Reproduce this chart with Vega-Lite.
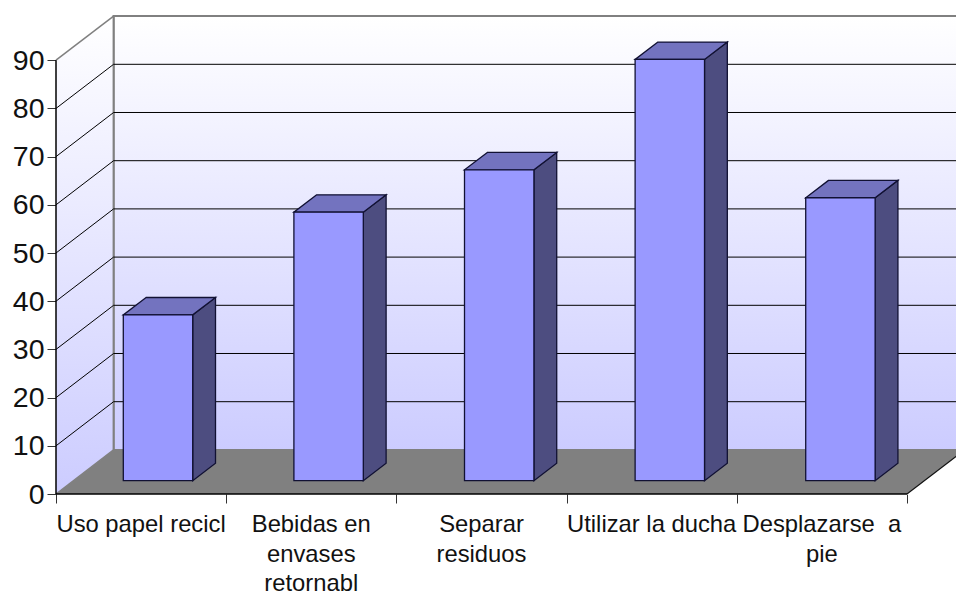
{
"$schema":"https://vega.github.io/schema/vega-lite/v6.json",
"width":900,"height":494,"padding":{"left":56,"top":0,"right":0,"bottom":97},"autosize":"none","background":"white",
"config":{"view":{"stroke":null},"font":"Liberation Sans"},
"datasets":{
"bars":[
{"category":"Uso papel recicl","value":34.4},
{"category":"Bebidas en\nenvases\nretornabl","value":55.7},
{"category":"Separar\nresiduos","value":64.5},
{"category":"Utilizar la ducha","value":87.4},
{"category":"Desplazarse \u00a0a\npie","value":58.7}],
"grid":[{"v":10},{"v":20},{"v":30},{"v":40},{"v":50},{"v":60},{"v":70},{"v":80}],
"frame":[{"t":0},{"t":1}],
"one":[{"v":0}]
},
"encoding":{
"x":{"field":"x","type":"quantitative","title":null,"scale":{"domain":[0,5.288],"nice":false,"zero":false},
"axis":{"values":[0,1,2,3,4,5],"labels":false,"domain":false,"grid":false,"tickSize":9,"tickColor":"#333333","title":null}},
"y":{"field":"y","type":"quantitative","title":null,"scale":{"domain":[0,102.49],"nice":false,"zero":false},
"axis":{"values":[0,10,20,30,40,50,60,70,80,90],"domain":false,"grid":false,"tickSize":9,"tickColor":"#333333","labelFontSize":28.5,"labelColor":"#111111","labelPadding":3,"title":null}}
},
"layer":[
{"data":{"name":"one"},
"transform":[{"calculate":"0.3384","as":"x"},{"calculate":"5.5","as":"x2"},{"calculate":"9.15","as":"y"},{"calculate":"99.15","as":"y2"}],
"mark":{"type":"rect","clip":true,"stroke":"#808080","strokeWidth":2,"fill":{"gradient":"linear","x1":0,"y1":0,"x2":0,"y2":1,"stops":[{"offset":0,"color":"#ffffff"},{"offset":1,"color":"#ccccff"}]}},
"encoding":{"x2":{"field":"x2"},"y2":{"field":"y2"}}},
{"data":{"name":"frame"},
"transform":[{"calculate":"datum.t*0.3384","as":"x"},{"calculate":"datum.t*9.15","as":"y"},{"calculate":"90+datum.t*9.15","as":"y2"}],
"mark":{"type":"area","fill":{"gradient":"linear","x1":0,"y1":0,"x2":0,"y2":1,"stops":[{"offset":0,"color":"#ffffff"},{"offset":1,"color":"#ccccff"}]}},
"encoding":{"y2":{"field":"y2"}}},
{"data":{"name":"one"},
"transform":[{"calculate":"0.3384","as":"x"},{"calculate":"9.15","as":"y"},{"calculate":"99.15","as":"y2"}],
"mark":{"type":"rule","color":"#808080","strokeWidth":2},
"encoding":{"y2":{"field":"y2"}}},
{"data":{"name":"frame"},
"transform":[{"calculate":"datum.t*9.15","as":"y"},{"calculate":"datum.t*0.3384","as":"x"},{"calculate":"5+datum.t*0.3384","as":"x2"}],
"mark":{"type":"area","orient":"horizontal","clip":true,"fill":"#808080"},
"encoding":{"x2":{"field":"x2"}}},
{"data":{"name":"grid"},
"transform":[{"calculate":"0.3384","as":"x"},{"calculate":"5.5","as":"x2"},{"calculate":"datum.v+9.15","as":"y"}],
"mark":{"type":"rule","clip":true,"color":"#000000","strokeWidth":1},
"encoding":{"x2":{"field":"x2"}}},
{"data":{"name":"grid"},
"transform":[{"calculate":"0","as":"x"},{"calculate":"0.3384","as":"x2"},{"calculate":"datum.v","as":"y"},{"calculate":"datum.v+9.15","as":"y2"}],
"mark":{"type":"rule","color":"#000000","strokeWidth":1},
"encoding":{"x2":{"field":"x2"},"y2":{"field":"y2"}}},
{"data":{"values":[{"v":0},{"v":90}]},
"transform":[{"calculate":"0","as":"x"},{"calculate":"0.3384","as":"x2"},{"calculate":"datum.v","as":"y"},{"calculate":"datum.v+9.15","as":"y2"}],
"mark":{"type":"rule","color":"#808080","strokeWidth":1.5},
"encoding":{"x2":{"field":"x2"},"y2":{"field":"y2"}}},
{"data":{"name":"one"},
"transform":[{"calculate":"5","as":"x"},{"calculate":"5.3384","as":"x2"},{"calculate":"0","as":"y"},{"calculate":"9.15","as":"y2"}],
"mark":{"type":"rule","clip":true,"color":"#111111","strokeWidth":1.2},
"encoding":{"x2":{"field":"x2"},"y2":{"field":"y2"}}},
{"data":{"name":"one"},
"transform":[{"calculate":"0","as":"x"},{"calculate":"0","as":"y"},{"calculate":"90","as":"y2"}],
"mark":{"type":"rule","color":"#000000","strokeWidth":1.5},
"encoding":{"y2":{"field":"y2"}}},
{"data":{"name":"one"},
"transform":[{"calculate":"0","as":"x"},{"calculate":"5","as":"x2"},{"calculate":"0","as":"y"}],
"mark":{"type":"rule","color":"#000000","strokeWidth":1.5},
"encoding":{"x2":{"field":"x2"}}},
{"data":{"name":"bars"},
"transform":[{"window":[{"op":"row_number","as":"n"}]},
{"calculate":"0.3954+(datum.n-1)*1.0024","as":"xf"},
{"calculate":"[0,1]","as":"t"},{"flatten":["t"]},
{"calculate":"datum.xf+0.4078+datum.t*0.134","as":"x"},
{"calculate":"datum.value+2.76+datum.t*3.61","as":"y"},
{"calculate":"2.76+datum.t*3.61","as":"y2"}],
"mark":{"type":"area","fill":"#4d4d80","stroke":"#111133","strokeWidth":1.3},
"encoding":{"y2":{"field":"y2"},"detail":{"field":"category"}}},
{"data":{"name":"bars"},
"transform":[{"window":[{"op":"row_number","as":"n"}]},
{"calculate":"0.3954+(datum.n-1)*1.0024","as":"xf"},
{"calculate":"[0,1]","as":"t"},{"flatten":["t"]},
{"calculate":"datum.xf+datum.t*0.134","as":"x"},
{"calculate":"datum.xf+0.4078+datum.t*0.134","as":"x2"},
{"calculate":"datum.value+2.76+datum.t*3.61","as":"y"}],
"mark":{"type":"area","orient":"horizontal","fill":"#7373bf","stroke":"#111133","strokeWidth":1.3},
"encoding":{"x2":{"field":"x2"},"detail":{"field":"category"}}},
{"data":{"name":"bars"},
"transform":[{"window":[{"op":"row_number","as":"n"}]},
{"calculate":"0.3954+(datum.n-1)*1.0024","as":"x"},
{"calculate":"datum.x+0.4078","as":"x2"},
{"calculate":"datum.value+2.76","as":"y"},
{"calculate":"2.76","as":"y2"}],
"mark":{"type":"rect","fill":"#9999ff","stroke":"#111133","strokeWidth":1.3},
"encoding":{"x2":{"field":"x2"},"y2":{"field":"y2"}}},
{"data":{"name":"bars"},
"transform":[{"window":[{"op":"row_number","as":"n"}]},
{"calculate":"datum.n-0.5","as":"x"},{"calculate":"0","as":"y"}],
"mark":{"type":"text","baseline":"top","align":"center","dy":19,"fontSize":23.8,"lineBreak":"\n","lineHeight":29.5,"color":"#111111"},
"encoding":{"text":{"field":"category"}}}
]
}
